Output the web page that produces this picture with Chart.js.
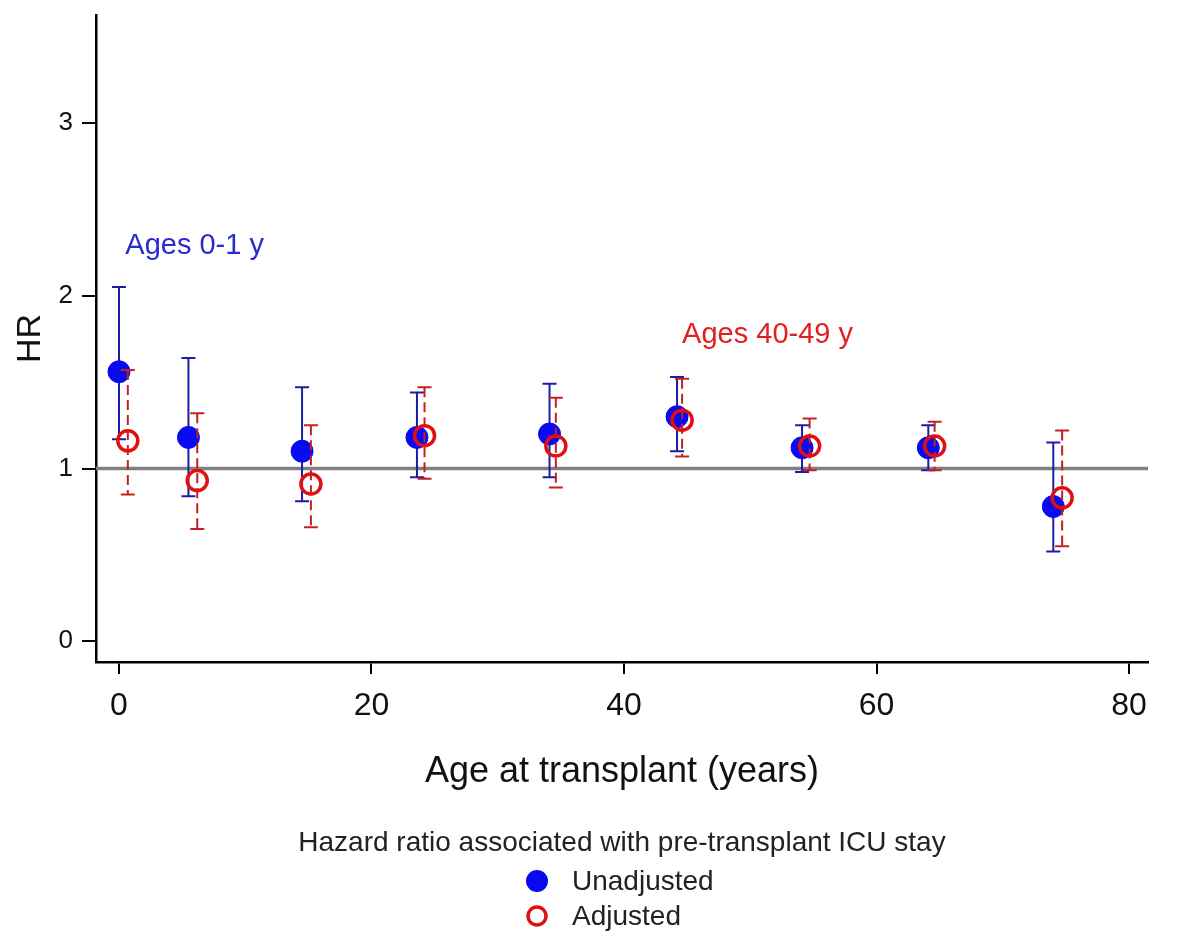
<!DOCTYPE html>
<html>
<head>
<meta charset="utf-8">
<script src="https://cdn.jsdelivr.net/npm/chart.js@4/dist/chart.umd.min.js"></script>
<style>
  html, body { margin: 0; padding: 0; background: #fff; }
  #wrap { width: 1181px; height: 951px; }
</style>
</head>
<body>
<div id="wrap"><canvas id="hrChart" width="1181" height="951"></canvas></div>
<script>
// Unadjusted HR by age at transplant (blue, filled)
const AGE_UNADJ = [0, 5.5, 14.5, 23.6, 34.1, 44.2, 54.1, 64.1, 74.0];
const HR_UNADJ  = [1.56, 1.18, 1.10, 1.18, 1.20, 1.30, 1.12, 1.12, 0.78];
const LO_UNADJ  = [1.17, 0.84, 0.81, 0.95, 0.95, 1.10, 0.98, 0.99, 0.52];
const HI_UNADJ  = [2.05, 1.64, 1.47, 1.44, 1.49, 1.53, 1.25, 1.25, 1.15];

// Adjusted HR (red, hollow)
const AGE_ADJ = [0.7, 6.2, 15.2, 24.2, 34.6, 44.6, 54.7, 64.6, 74.7];
const HR_ADJ  = [1.16, 0.93, 0.91, 1.19, 1.13, 1.28, 1.13, 1.13, 0.83];
const LO_ADJ  = [0.85, 0.65, 0.66, 0.94, 0.89, 1.07, 0.99, 0.99, 0.55];
const HI_ADJ  = [1.57, 1.32, 1.25, 1.47, 1.41, 1.52, 1.29, 1.27, 1.22];

const X_TICKS = [0, 20, 40, 60, 80];
const Y_TICKS = [0, 1, 2, 3];
const REF_HR = 1;

const NOTE_TEXT = ['Ages 0-1 y', 'Ages 40-49 y'];
const NOTE_X = [0.5, 44.6];
const NOTE_Y = [2.29, 1.77];

const LEGEND_TITLE = 'Hazard ratio associated with pre-transplant ICU stay';
const SERIES_NAMES = ['Unadjusted', 'Adjusted'];

const FONT = '"Liberation Sans", Arial, sans-serif';
const BLUE = '#0a0af0';
const BLUE_BAR = '#1c1ca8';
const RED = '#e01010';
const RED_BAR = '#c42020';

const toPoints = (xs, ys) => xs.map((x, i) => ({ x: x, y: ys[i] }));

// error bars + reference line, drawn under each dataset's markers
const errorBars = {
  id: 'errorBars',
  beforeDatasetsDraw(chart) {
    const { ctx, chartArea, scales: { y } } = chart;
    const yp = y.getPixelForValue(REF_HR);
    ctx.save();
    ctx.strokeStyle = '#808080';
    ctx.lineWidth = 3.5;
    ctx.beginPath();
    ctx.moveTo(chartArea.left, yp);
    ctx.lineTo(chartArea.right, yp);
    ctx.stroke();
    ctx.restore();
  },
  beforeDatasetDraw(chart, args) {
    const { ctx, scales: { x, y } } = chart;
    const ds = chart.data.datasets[args.index];
    const lo = ds.lo, hi = ds.hi;
    ctx.save();
    ctx.strokeStyle = ds.barColor;
    ctx.lineWidth = 2;
    ds.data.forEach((p, i) => {
      const px = x.getPixelForValue(p.x);
      const top = y.getPixelForValue(hi[i]);
      const bot = y.getPixelForValue(lo[i]);
      ctx.setLineDash(ds.dashed ? [10, 5] : []);
      ctx.beginPath();
      ctx.moveTo(px, top);
      ctx.lineTo(px, bot);
      ctx.stroke();
      ctx.setLineDash([]);
      ctx.beginPath();
      ctx.moveTo(px - 7, top); ctx.lineTo(px + 7, top);
      ctx.moveTo(px - 7, bot); ctx.lineTo(px + 7, bot);
      ctx.stroke();
    });
    ctx.restore();
  },
  afterDraw(chart) {
    const { ctx, scales: { x, y } } = chart;
    ctx.save();
    // text notes
    ctx.font = '29px ' + FONT;
    ctx.textBaseline = 'middle';
    ctx.textAlign = 'left';
    const noteColors = ['#2a2ad0', '#e02020'];
    NOTE_TEXT.forEach((t, i) => {
      ctx.fillStyle = noteColors[i];
      ctx.fillText(t, x.getPixelForValue(NOTE_X[i]), y.getPixelForValue(NOTE_Y[i]));
    });

    // legend
    ctx.fillStyle = '#222';
    ctx.textAlign = 'center';
    ctx.font = '28px ' + FONT;
    ctx.fillText(LEGEND_TITLE, 622, 843);
    ctx.textAlign = 'left';
    ctx.fillText(SERIES_NAMES[0], 572, 882);
    ctx.fillText(SERIES_NAMES[1], 572, 917);
    ctx.fillStyle = BLUE;
    ctx.beginPath();
    ctx.arc(537, 881, 11, 0, Math.PI * 2);
    ctx.fill();
    ctx.strokeStyle = RED;
    ctx.lineWidth = 3.5;
    ctx.beginPath();
    ctx.arc(537, 916, 9, 0, Math.PI * 2);
    ctx.stroke();
    ctx.restore();
  }
};

new Chart(document.getElementById('hrChart').getContext('2d'), {
  type: 'scatter',
  data: {
    datasets: [
      {
        label: SERIES_NAMES[0],
        data: toPoints(AGE_UNADJ, HR_UNADJ),
        lo: LO_UNADJ, hi: HI_UNADJ,
        barColor: BLUE_BAR, dashed: false,
        pointRadius: 11,
        pointBackgroundColor: BLUE,
        pointBorderColor: BLUE,
        pointBorderWidth: 1,
        order: 2
      },
      {
        label: SERIES_NAMES[1],
        data: toPoints(AGE_ADJ, HR_ADJ),
        lo: LO_ADJ, hi: HI_ADJ,
        barColor: RED_BAR, dashed: true,
        pointRadius: 10,
        pointBackgroundColor: 'rgba(0,0,0,0)',
        pointBorderColor: RED,
        pointBorderWidth: 3.5,
        order: 1
      }
    ]
  },
  options: {
    responsive: false,
    animation: false,
    layout: { padding: { top: 15, right: 33, bottom: 153, left: 0 } },
    plugins: {
      legend: { display: false },
      tooltip: { enabled: false }
    },
    scales: {
      x: {
        type: 'linear',
        min: -1.82,
        max: 81.5,
        afterBuildTicks: s => { s.ticks = X_TICKS.map(v => ({ value: v })); },
        afterFit: s => { s.height = 136; },
        border: { display: true, color: '#000', width: 2.5 },
        grid: { drawOnChartArea: false, drawTicks: true, tickLength: 12, color: '#000', lineWidth: 2 },
        ticks: { color: '#111', padding: 13, maxRotation: 0, font: { family: FONT, size: 32 } },
        title: { display: true, text: 'Age at transplant (years)', color: '#111', font: { family: FONT, size: 36 } }
      },
      y: {
        type: 'linear',
        min: -0.12,
        max: 3.625,
        afterBuildTicks: s => { s.ticks = Y_TICKS.map(v => ({ value: v })); },
        afterFit: s => { s.width = 96; s.paddingTop = 0; s.paddingBottom = 0; },
        border: { display: true, color: '#000', width: 2.5 },
        grid: { drawOnChartArea: false, drawTicks: true, tickLength: 14, color: '#000', lineWidth: 2 },
        ticks: { color: '#111', padding: 9, font: { family: FONT, size: 26 } },
        title: { display: true, text: 'HR', color: '#111', padding: { top: 10, bottom: 0 }, font: { family: FONT, size: 34 } }
      }
    }
  },
  plugins: [errorBars]
});
</script>
</body>
</html>
